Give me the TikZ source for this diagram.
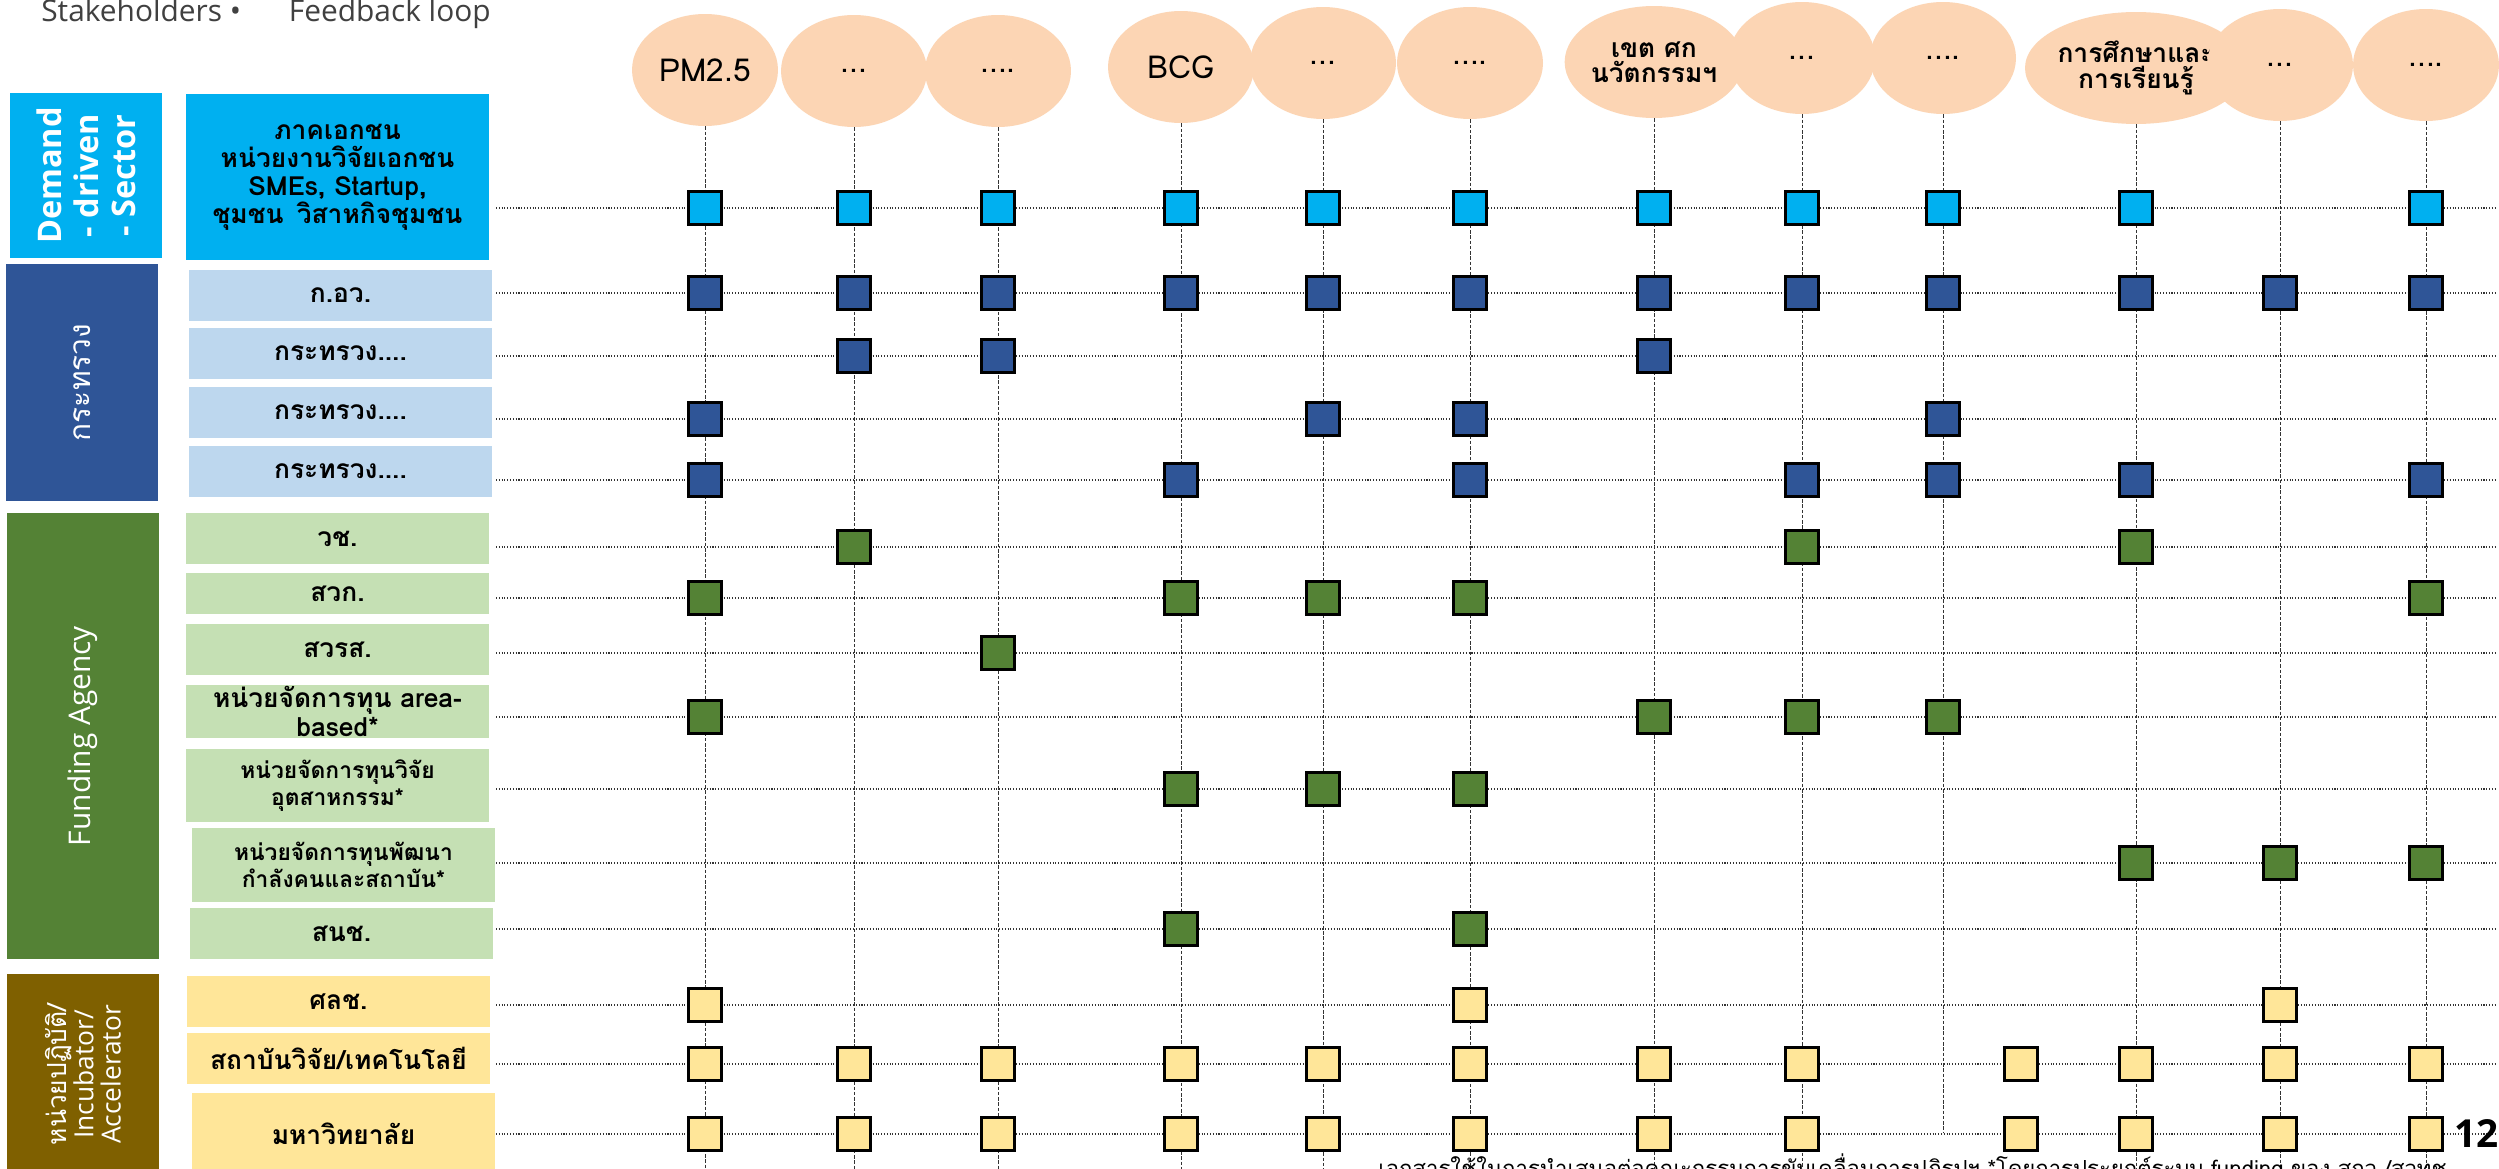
\documentclass[tikz,border=0pt]{standalone}
\usepackage{fontspec}
\setmainfont{Open Sans}
\newfontfamily\thai[Script=Thai]{Loma}
\usetikzlibrary{shapes.geometric}

\definecolor{demand}{HTML}{00B0F0}
\definecolor{ministry}{HTML}{2F5597}
\definecolor{funding}{HTML}{548235}
\definecolor{incub}{HTML}{7F6000}
\definecolor{ministrylight}{HTML}{BDD7EE}
\definecolor{fundinglight}{HTML}{C5E0B4}
\definecolor{incublight}{HTML}{FFE699}
\definecolor{topicfill}{HTML}{FCD5B4}

\begin{document}
\begin{tikzpicture}[x=0.02cm, y=-0.02cm,
        topic/.style={ellipse, fill=topicfill, minimum width=2.92cm, minimum height=2.24cm, inner sep=0pt, align=center, font=\thai\fontsize{18}{19}\selectfont},
        topicsmall/.style={topic, font=\thai\bfseries\fontsize{15}{14.5}\selectfont},
        group/.style={rotate=90, minimum height=3.04cm, inner sep=0pt, text=white, align=center},
        entry/.style={minimum width=6.06cm, minimum height=1.02cm, inner sep=0pt, align=center, font=\thai\bfseries\fontsize{15}{16}\selectfont},
        cell/.style={draw=black, line width=1.6pt, minimum size=0.66cm, inner sep=0pt},
        vline/.style={dash pattern=on 2pt off 1pt, line width=0.5pt, black!80},
        hline/.style={densely dotted, line width=0.6pt, black!80}]
        \useasboundingbox[fill=white] (0,0) rectangle (2499,1169);

        \node[anchor=base west, inner sep=0pt, text=black!75, font=\fontsize{17}{17}\selectfont] (title) at (41,22) {Stakeholders \textbullet\hspace{1.6em}Feedback loop};

        \node[group, fill=demand, minimum width=3.3cm, font=\bfseries\fontsize{18.5}{21}\selectfont] (demandgrp) at (86,175.5) {Demand\\- driven\\- Sector};
        \node[group, fill=ministry, minimum width=4.74cm, font=\thai\fontsize{17}{18}\selectfont] (ministrygrp) at (82,382.5) {กระทรวง};
        \node[group, fill=funding, minimum width=8.92cm, font=\fontsize{17}{18}\selectfont] (fundinggrp) at (83,736) {Funding Agency};
        \node[group, fill=incub, minimum width=4.02cm, font=\fontsize{15}{15.5}\selectfont] (incubgrp) at (83,1074.5) {{\thai หน่วยปฏิบัติ/}\\Incubator/\\Accelerator};

        \node[entry, fill=demand, minimum height=3.32cm] (r1) at (337.5,177) {ภาคเอกชน\\หน่วยงานวิจัยเอกชน\\SMEs, Startup,\\ชุมชน\enspace วิสาหกิจชุมชน};
        \node[entry, fill=ministrylight] (r2) at (340.5,295.5) {ก.อว.};
        \node[entry, fill=ministrylight] (r3) at (340.5,353.5) {กระทรวง....};
        \node[entry, fill=ministrylight] (r4) at (340.5,412.5) {กระทรวง....};
        \node[entry, fill=ministrylight] (r5) at (340.5,471.5) {กระทรวง....};
        \node[entry, fill=fundinglight] (r6) at (337.5,538.5) {วช.};
        \node[entry, fill=fundinglight, minimum height=0.82cm] (r7) at (337.5,593.5) {สวก.};
        \node[entry, fill=fundinglight] (r8) at (337.5,649.5) {สวรส.};
        \node[entry, fill=fundinglight, minimum height=1.06cm] (r9) at (337.5,711.5) {หน่วยจัดการทุน area-\\based*};
        \node[entry, fill=fundinglight, minimum height=1.46cm, font=\thai\bfseries\fontsize{13}{15}\selectfont] (r10) at (337.5,785.5) {หน่วยจัดการทุนวิจัย\\อุตสาหกรรม*};
        \node[entry, fill=fundinglight, minimum height=1.48cm, font=\thai\bfseries\fontsize{13}{15}\selectfont] (r11) at (343.5,865) {หน่วยจัดการทุนพัฒนา\\กำลังคนและสถาบัน*};
        \node[entry, fill=fundinglight] (r12) at (341.5,933.5) {สนช.};
        \node[entry, fill=incublight] (r13) at (338.5,1001.5) {ศลช.};
        \node[entry, fill=incublight] (r14) at (338.5,1058.5) {สถาบันวิจัย/เทคโนโลยี};
        \node[entry, fill=incublight, minimum height=1.64cm] (r15) at (343.5,1134) {มหาวิทยาลัย};

        \foreach \y [count=\i] in {208, 293, 356, 419, 480, 547, 598, 653, 717, 789, 863, 929, 1005, 1064, 1134} {
            \coordinate (a\i) at (496,\y);
            \coordinate (z\i) at (2495,\y);
            \draw[hline] (a\i) -- (z\i);
        }

        \node[topic] (t1) at (705,70) {PM2.5};
        \node[topic] (t2) at (854,71) {...};
        \node[topic] (t3) at (998,71) {....};
        \node[topic] (t4) at (1181,67) {BCG};
        \node[topic] (t5) at (1323,63) {...};
        \node[topic] (t6) at (1470,63) {....};
        \node[topicsmall] (t7) at (1654,62) {เขต ศก\\นวัตกรรมฯ};
        \node[topic] (t8) at (1802,58) {...};
        \node[topic] (t9) at (1943,58) {....};
        \node[topicsmall] (t10) at (2136,68) {การศึกษาและ\\การเรียนรู้};
        \node[topic] (t11) at (2280,65) {...};
        \node[topic] (t12) at (2426,65) {....};

        \foreach \x/\yb [count=\j] in {705/1172, 854/1172, 998/1172, 1181/1172, 1323/1172, 1470/1172, 1654/1172, 1802/1172, 1943/1132, 2136/1172, 2280/1172, 2426/1172} {
            \coordinate (x\j) at (\x,0);
            \coordinate (b\j) at (\x,\yb);
            \draw[vline] (t\j.south) -- (b\j);
        }
        \coordinate (x13) at (2021,0);

        \node[anchor=base west, inner sep=0pt, font=\thai\fontsize{12.6}{14}\selectfont] (note) at (1378,1176) {เอกสารใช้ในการนำเสนอต่อคณะกรรมการขับเคลื่อนการปฏิรูปฯ *โดยการประยุกต์ระบบ funding ของ สกว /สวทช};
        \node[anchor=base east, inner sep=0pt, font=\bfseries\fontsize{22}{22}\selectfont] (page) at (2499,1147) {12};

        \foreach \r/\cols/\c in {1/{1,2,3,4,5,6,7,8,9,10,12}/demand, 2/{1,2,3,4,5,6,7,8,9,10,11,12}/ministry, 3/{2,3,7}/ministry, 4/{1,5,6,9}/ministry, 5/{1,4,6,8,9,10,12}/ministry, 6/{2,8,10}/funding, 7/{1,4,5,6,12}/funding, 8/{3}/funding, 9/{1,7,8,9}/funding, 10/{4,5,6}/funding, 11/{10,11,12}/funding, 12/{4,6}/funding, 13/{1,6,11}/incublight, 14/{1,2,3,4,5,6,7,8,13,10,11,12}/incublight, 15/{1,2,3,4,5,6,7,8,13,10,11,12}/incublight}
            \foreach \k in \cols
                \node[cell, fill=\c] (c\r-\k) at (x\k |- a\r) {};
    \end{tikzpicture}
\end{document}
